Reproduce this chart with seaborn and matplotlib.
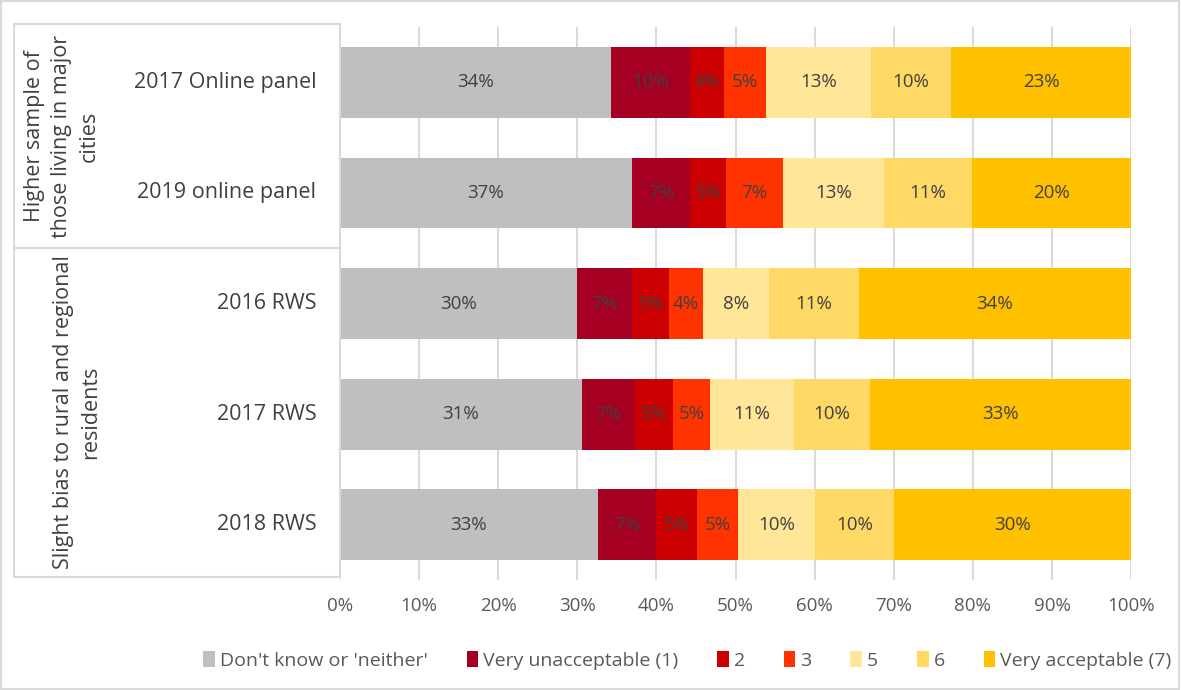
import matplotlib
matplotlib.use("Agg")
import matplotlib.pyplot as plt
from matplotlib.patches import Patch
from matplotlib.lines import Line2D
import numpy as np
import pandas as pd
import seaborn as sns

# Survey waves (top to bottom) and their sample groups
surveys = ["2017 Online panel", "2019 online panel", "2016 RWS", "2017 RWS", "2018 RWS"]
groups = ["Higher sample of\nthose living in major\ncities",
          "Slight bias to rural and regional\nresidents"]

# Response categories in stacking order
responses = ["Don't know or 'neither'", "Very unacceptable (1)", "2", "3", "5", "6",
             "Very acceptable (7)"]
colors = ["#BFBFBF", "#A50021", "#CC0000", "#FF3300", "#FFE699", "#FFD966", "#FFC000"]

# Share of respondents (%) per survey, one list per response category
dont_know = [34.3, 36.9, 30.0, 30.6, 32.6]
very_unacc = [9.9, 7.3, 6.9, 6.7, 7.4]
resp_2 = [4.3, 4.6, 4.7, 4.8, 5.1]
resp_3 = [5.3, 7.2, 4.3, 4.7, 5.2]
resp_5 = [13.3, 12.8, 8.3, 10.6, 9.8]
resp_6 = [10.2, 11.1, 11.4, 9.6, 9.9]
very_acc = [22.7, 20.1, 34.4, 33.0, 30.0]

series = [dont_know, very_unacc, resp_2, resp_3, resp_5, resp_6, very_acc]

sns.set_style("white")
plt.rcParams["font.family"] = ["Open Sans", "DejaVu Sans"]

vals = np.array(series)            # (n_responses, n_surveys)
cum = np.cumsum(vals, axis=0)

fig = plt.figure(figsize=(11.81, 6.90), dpi=100)
ax = fig.add_axes([0.2879, 0.1594, 0.6698, 0.8014])

# vertical gridlines behind bars
for x in range(0, 101, 10):
    ax.axvline(x, color="#D9D9D9", lw=1.4, zorder=0)

# stacked bars: draw cumulative totals from the outermost layer inwards
for i in range(len(responses) - 1, -1, -1):
    df = pd.DataFrame({"survey": surveys, "value": cum[i]})
    sns.barplot(data=df, x="value", y="survey", order=surveys, orient="h",
                color=colors[i], saturation=1, width=0.64, ax=ax, zorder=2,
                errorbar=None, edgecolor="none", linewidth=0)

# value labels in the middle of each segment
for i in range(len(responses)):
    for j in range(len(surveys)):
        left = cum[i, j] - vals[i, j]
        ax.text(left + vals[i, j] / 2, j, f"{vals[i, j]:.0f}%", ha="center",
                va="center", fontsize=13.5, color="#404040", zorder=3)

ax.set_xlim(0, 100)
ax.set_ylim(len(surveys) - 0.5, -0.5)
ax.set_xticks(range(0, 101, 10))
ax.set_xticklabels([f"{x}%" for x in range(0, 101, 10)], fontsize=13.5, color="#595959")
ax.tick_params(axis="x", length=0, pad=12)
ax.set_yticks([])
ax.set_xlabel("")
ax.set_ylabel("")
for s in ax.spines.values():
    s.set_visible(False)

# category labels on the left
for j, name in enumerate(surveys):
    ax.text(-0.03, j, name, transform=ax.get_yaxis_transform(), ha="right",
            va="center", fontsize=15.5, color="#404040")

# grouping table lines on the left
line_kw = dict(color="#D9D9D9", lw=1.5, transform=fig.transFigure, clip_on=False)
y_top, y_mid, y_bot = 1 - 24 / 690, 1 - 248 / 690, 1 - 577 / 690
x_left, x_right = 14 / 1181, 340 / 1181
for yy in (y_top, y_mid, y_bot):
    fig.add_artist(Line2D([x_left, x_right], [yy, yy], **line_kw))
fig.add_artist(Line2D([x_left, x_left], [y_bot, y_top], **line_kw))
fig.add_artist(Line2D([x_right, x_right], [y_bot, y_top], **line_kw))

fig.text(62 / 1181, (y_top + y_mid) / 2, groups[0], rotation=90, ha="center",
         va="center", fontsize=15.5, color="#404040", linespacing=1.4,
         multialignment="center")
fig.text(77 / 1181, (y_mid + y_bot) / 2, groups[1], rotation=90, ha="center",
         va="center", fontsize=15.5, color="#404040", linespacing=1.4,
         multialignment="center")

# legend
handles = [Patch(facecolor=c, edgecolor="none") for c in colors]
fig.legend(handles, responses, loc="center", bbox_to_anchor=(0.582, 0.043),
           ncol=7, frameon=False, handlelength=0.6, fontsize=14,
           handleheight=0.9, handletextpad=0.25, columnspacing=2.0,
           labelcolor="#595959")

# outer chart border
fig.add_artist(plt.Rectangle((0.001, 0.001), 0.997, 0.997, transform=fig.transFigure,
                             fill=False, edgecolor="#D9D9D9", lw=1.5))

fig.savefig("out.png", dpi=100, facecolor="white")
